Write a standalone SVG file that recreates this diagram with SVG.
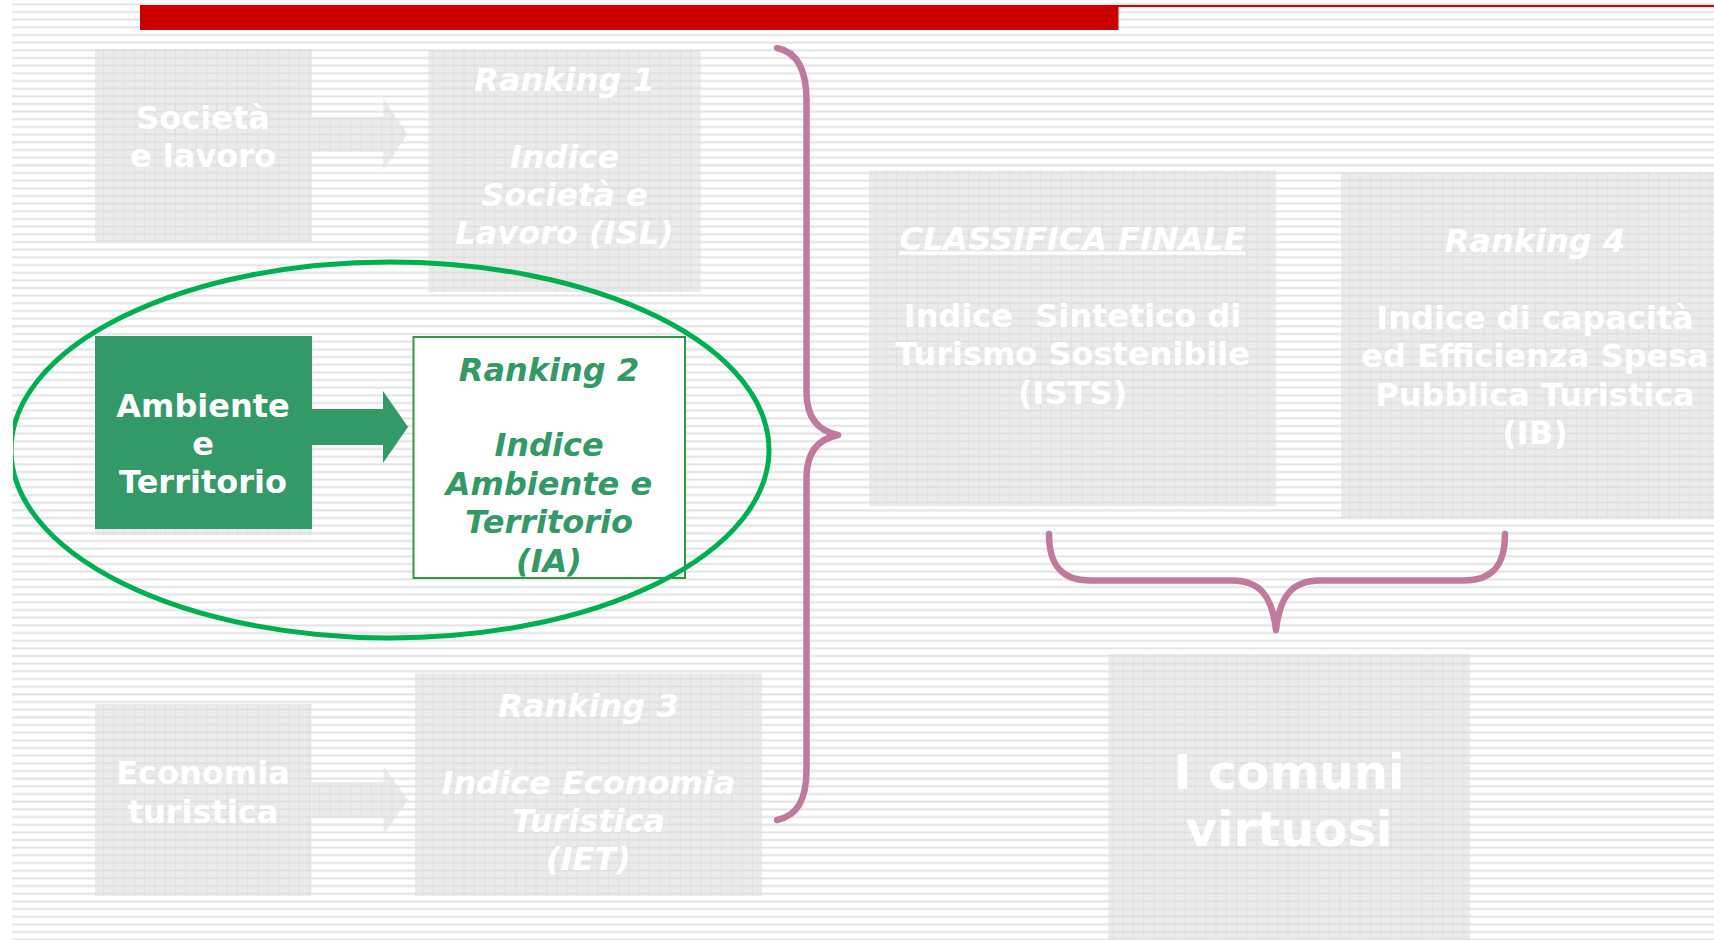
<svg xmlns="http://www.w3.org/2000/svg" width="1714" height="940" viewBox="0 0 1714 940">
  <defs>
    <pattern id="stripes" patternUnits="userSpaceOnUse" x="12" y="0" width="20" height="7.667">
      <rect x="0" y="3.3" width="20" height="2" fill="#e2e2e2"/>
    </pattern>
    <pattern id="grid" patternUnits="userSpaceOnUse" x="0" y="0" width="10.3" height="7.667">
      <rect x="0" y="0" width="10.3" height="7.667" fill="#ebebeb"/>
      <rect x="0" y="3.4" width="10.3" height="1.6" fill="#dedede"/>
      <rect x="0" y="0" width="1" height="7.667" fill="#dfdfdf"/>
    </pattern>
    <clipPath id="clipL">
      <rect x="13" y="0" width="1701" height="940"/>
    </clipPath>
    <style>
      .gbox { fill: url(#grid); }
      .t { font-family: "DejaVu Sans", Verdana, sans-serif; font-weight: bold; font-size: 32px; text-anchor: middle; fill: #ffffff; }
      .big { font-size: 48px; }
      .it { font-style: italic; }
      .grn { fill: #339966; }
      .brace { fill: none; stroke: #c07a9e; stroke-width: 6.5; stroke-linecap: round; stroke-linejoin: round; }
      .garrow { fill: url(#grid); }
    </style>
  </defs>

  <rect x="0" y="0" width="1714" height="940" fill="#ffffff"/>
  <rect x="12" y="0" width="1702" height="940" fill="url(#stripes)"/>

  <!-- top bar -->
  <rect x="1118" y="5" width="596" height="2" fill="#e00000"/>
  <rect x="140" y="5" width="978.5" height="25" fill="#cc0000"/>

  <!-- nodes -->
  <g id="node-societa">
    <rect class="gbox" x="95" y="49" width="217" height="193"/>
    <text class="t" x="203" y="129">Società</text>
    <text class="t" x="203" y="167">e lavoro</text>
  </g>

  <g id="node-ranking1">
    <rect class="gbox" x="428.5" y="50" width="272" height="242"/>
    <text class="t it" x="564.5" y="91">Ranking 1</text>
    <text class="t it" x="564.5" y="168">Indice</text>
    <text class="t it" x="564.5" y="206">Società e</text>
    <text class="t it" x="564.5" y="244">Lavoro (ISL)</text>
  </g>

  <g id="node-ambiente">
    <rect class="gbox" x="95" y="336" width="217" height="199"/>
    <rect x="95" y="336" width="217" height="193" fill="#339966"/>
    <text class="t" x="203" y="416.7">Ambiente</text>
    <text class="t" x="203" y="455">e</text>
    <text class="t" x="203" y="493">Territorio</text>
  </g>

  <g id="node-ranking2">
    <rect x="413.5" y="337" width="271.5" height="241" fill="#ffffff" stroke="#2e9940" stroke-width="2"/>
    <text class="t it grn" x="549" y="380.5">Ranking 2</text>
    <text class="t it grn" x="549" y="456">Indice</text>
    <text class="t it grn" x="549" y="494.5">Ambiente e</text>
    <text class="t it grn" x="549" y="533">Territorio</text>
    <text class="t it grn" x="549" y="571.5">(IA)</text>
  </g>

  <g id="node-economia">
    <rect class="gbox" x="95" y="704" width="216.5" height="192"/>
    <text class="t" x="203" y="784.3">Economia</text>
    <text class="t" x="203" y="822.7">turistica</text>
  </g>

  <g id="node-ranking3">
    <rect class="gbox" x="415" y="673.5" width="347" height="222.5"/>
    <text class="t it" x="588.5" y="717">Ranking 3</text>
    <text class="t it" x="588.5" y="793.5">Indice Economia</text>
    <text class="t it" x="588.5" y="831.8">Turistica</text>
    <text class="t it" x="588.5" y="870">(IET)</text>
  </g>

  <g id="node-classifica">
    <rect class="gbox" x="869" y="170.5" width="407" height="335.5"/>
    <text class="t it" x="1072.5" y="249.5" text-decoration="underline">CLASSIFICA FINALE</text>
    <text class="t" x="1072.5" y="327" style="white-space:pre">Indice  Sintetico di</text>
    <text class="t" x="1072.5" y="365.3">Turismo Sostenibile</text>
    <text class="t" x="1072.5" y="403.6">(ISTS)</text>
  </g>

  <g id="node-ranking4">
    <rect class="gbox" x="1341" y="172.7" width="373" height="345.6"/>
    <text class="t it" x="1535" y="252">Ranking 4</text>
    <text class="t" x="1535" y="329">Indice di capacità</text>
    <text class="t" x="1535" y="367.3">ed Efficienza Spesa</text>
    <text class="t" x="1535" y="405.6">Pubblica Turistica</text>
    <text class="t" x="1535" y="444">(IB)</text>
  </g>

  <g id="node-comuni">
    <rect class="gbox" x="1108.3" y="654" width="361.7" height="286"/>
    <text class="t big" x="1289" y="789">I comuni</text>
    <text class="t big" x="1289" y="845.5">virtuosi</text>
  </g>

  <!-- connectors -->
  <g id="connectors">
    <polygon class="garrow" points="312,116.7 383.3,116.7 383.3,98.3 407.5,134 383.3,170 383.3,151.7 312,151.7"/>
    <polygon fill="#339966" points="312,409 383,409 383,391 408,427 383,463 383,445 312,445"/>
    <polygon class="garrow" points="311.5,782 383.7,782 383.7,766.7 408,800 383.7,834 383.7,817 311.5,817"/>
    <path class="brace" d="M777,48 C797,52 806.5,70 806.5,100 L806.5,392 C806.5,418 818,431 838,435 C818,439 806.5,452 806.5,478 L806.5,770 C806.5,800 797,816 777,820"/>
    <path class="brace" d="M1049,534 C1049,566 1062,580.5 1090,580.5 L1232,580.5 C1260,580.5 1272,596 1276,630 C1280,596 1292,580.5 1320,580.5 L1464,580.5 C1492,580.5 1505,566 1505,534"/>
  </g>

  <!-- highlight ellipse -->
  <g id="highlight" clip-path="url(#clipL)">
    <ellipse cx="390" cy="450" rx="379" ry="188" fill="none" stroke="#00b050" stroke-width="5"/>
  </g>
</svg>
